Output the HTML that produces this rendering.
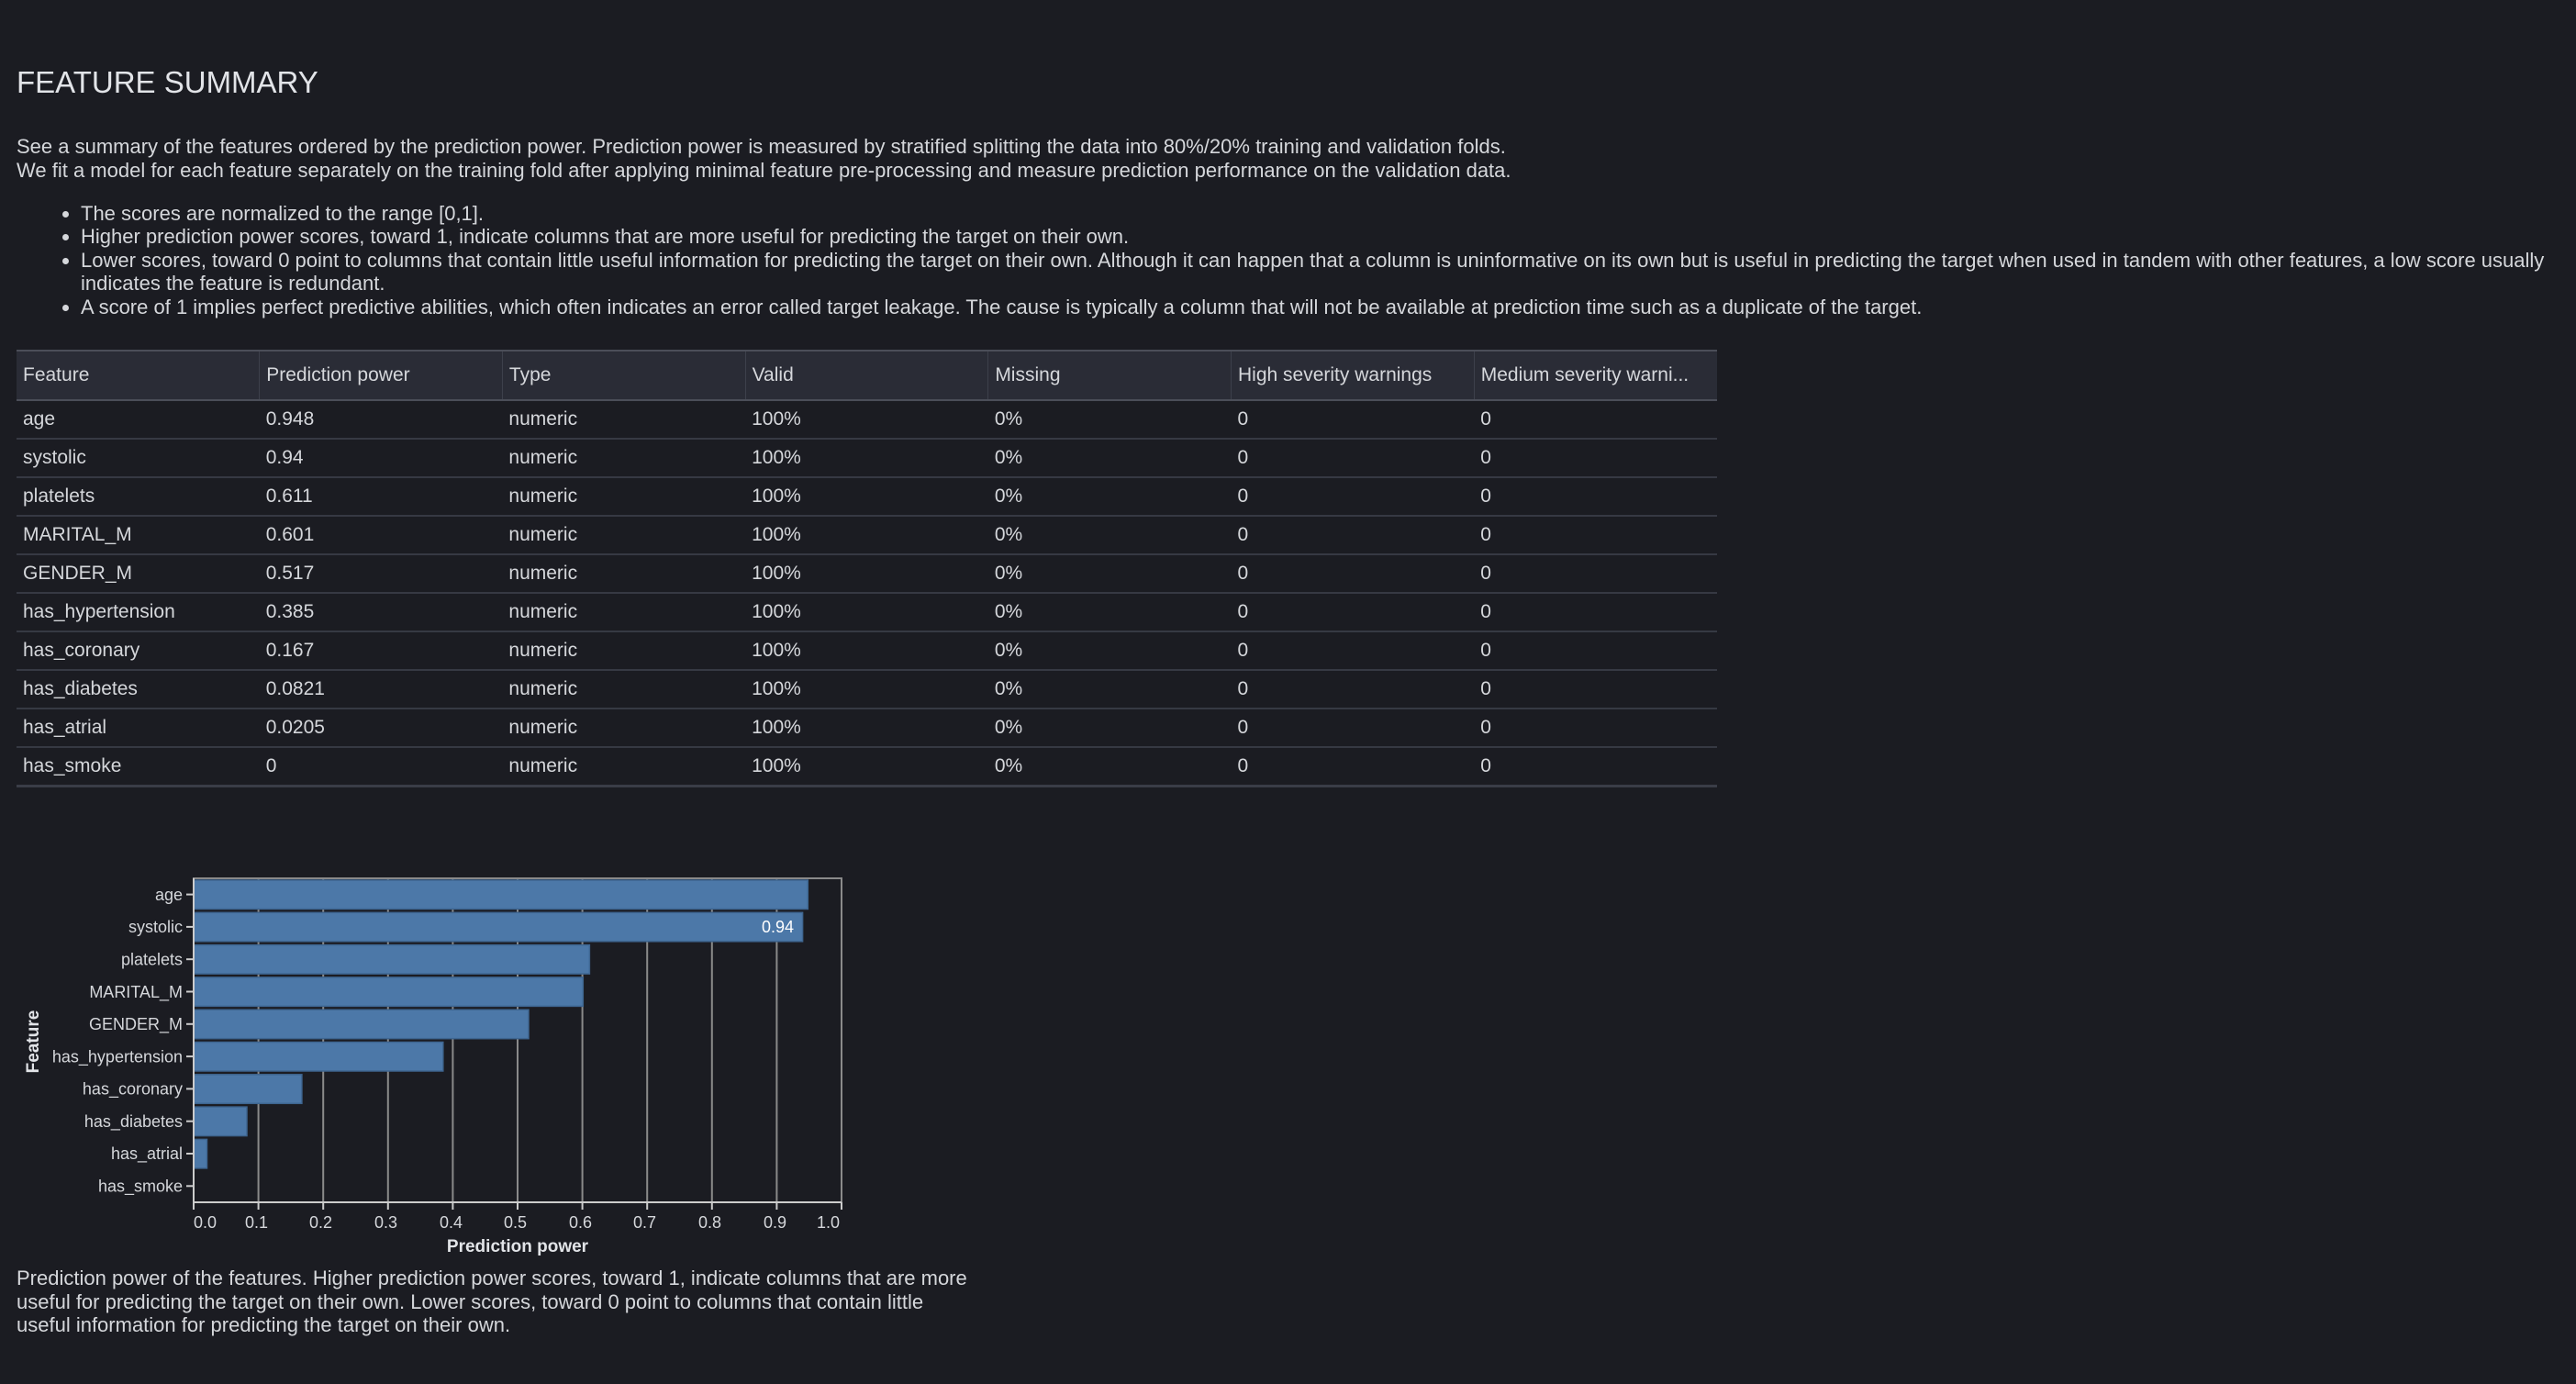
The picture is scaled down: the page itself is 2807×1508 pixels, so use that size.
<!DOCTYPE html>
<html><head><meta charset="utf-8"><style>
html,body{margin:0;padding:0;background:#1b1c22;width:2807px;height:1508px;overflow:hidden}
body{font-family:"Liberation Sans",sans-serif;color:#d5d7db}
h1{position:absolute;left:18px;top:71px;margin:0;font-weight:normal;font-size:33px;color:#e2e4e8}
.p{position:absolute;left:18px;font-size:22px;line-height:26px}
ul{position:absolute;left:50px;top:220px;margin:0;padding-left:38px;font-size:22px;line-height:25.4px;width:2700px}
table{position:absolute;left:18px;top:381px;border-collapse:collapse;font-size:21px;table-layout:fixed;width:1853px}
th{background:#2a2c36;font-weight:normal;text-align:left;height:52px;padding:0 7px;border-left:1px solid #3d404b;border-top:2px solid #4b4e58;border-bottom:2px solid #4b4e58;overflow:hidden;white-space:nowrap}
th:first-child{border-left:none}
td{height:40px;padding:0 7px;border-bottom:2px solid #363943}
tr:last-child td{border-bottom:3px solid #3a3d47}
</style></head><body>
<h1>FEATURE SUMMARY</h1>
<div class="p" style="top:147px">See a summary of the features ordered by the prediction power. Prediction power is measured by stratified splitting the data into 80%/20% training and validation folds.<br>We fit a model for each feature separately on the training fold after applying minimal feature pre-processing and measure prediction performance on the validation data.</div>
<ul>
<li>The scores are normalized to the range [0,1].</li>
<li>Higher prediction power scores, toward 1, indicate columns that are more useful for predicting the target on their own.</li>
<li>Lower scores, toward 0 point to columns that contain little useful information for predicting the target on their own. Although it can happen that a column is uninformative on its own but is useful in predicting the target when used in tandem with other features, a low score usually<br>indicates the feature is redundant.</li>
<li>A score of 1 implies perfect predictive abilities, which often indicates an error called target leakage. The cause is typically a column that will not be available at prediction time such as a duplicate of the target.</li>
</ul>
<table>
<tr><th>Feature</th><th>Prediction power</th><th>Type</th><th>Valid</th><th>Missing</th><th>High severity warnings</th><th>Medium severity warni...</th></tr>
<tr><td>age</td><td>0.948</td><td>numeric</td><td>100%</td><td>0%</td><td>0</td><td>0</td></tr>
<tr><td>systolic</td><td>0.94</td><td>numeric</td><td>100%</td><td>0%</td><td>0</td><td>0</td></tr>
<tr><td>platelets</td><td>0.611</td><td>numeric</td><td>100%</td><td>0%</td><td>0</td><td>0</td></tr>
<tr><td>MARITAL_M</td><td>0.601</td><td>numeric</td><td>100%</td><td>0%</td><td>0</td><td>0</td></tr>
<tr><td>GENDER_M</td><td>0.517</td><td>numeric</td><td>100%</td><td>0%</td><td>0</td><td>0</td></tr>
<tr><td>has_hypertension</td><td>0.385</td><td>numeric</td><td>100%</td><td>0%</td><td>0</td><td>0</td></tr>
<tr><td>has_coronary</td><td>0.167</td><td>numeric</td><td>100%</td><td>0%</td><td>0</td><td>0</td></tr>
<tr><td>has_diabetes</td><td>0.0821</td><td>numeric</td><td>100%</td><td>0%</td><td>0</td><td>0</td></tr>
<tr><td>has_atrial</td><td>0.0205</td><td>numeric</td><td>100%</td><td>0%</td><td>0</td><td>0</td></tr>
<tr><td>has_smoke</td><td>0</td><td>numeric</td><td>100%</td><td>0%</td><td>0</td><td>0</td></tr>
</table>
<svg style="position:absolute;left:0;top:0" width="2807" height="1508" font-family="Liberation Sans, sans-serif">
<g stroke="#8a8a8a" stroke-width="2">
<line x1="281.6" y1="957" x2="281.6" y2="1310"/><line x1="352.2" y1="957" x2="352.2" y2="1310"/><line x1="422.8" y1="957" x2="422.8" y2="1310"/><line x1="493.4" y1="957" x2="493.4" y2="1310"/><line x1="564" y1="957" x2="564" y2="1310"/><line x1="634.6" y1="957" x2="634.6" y2="1310"/><line x1="705.2" y1="957" x2="705.2" y2="1310"/><line x1="775.8" y1="957" x2="775.8" y2="1310"/><line x1="846.4" y1="957" x2="846.4" y2="1310"/>
</g>
<rect x="211" y="957" width="706" height="353" fill="none" stroke="#8a8a8a" stroke-width="2"/>
<g fill="#4c78a8" stroke="#3e6590" stroke-width="1.5">
<rect x="211" y="959" width="669.3" height="31.5"/>
<rect x="211" y="994.3" width="663.6" height="31.5"/>
<rect x="211" y="1029.6" width="431.4" height="31.5"/>
<rect x="211" y="1064.9" width="424.3" height="31.5"/>
<rect x="211" y="1100.2" width="365" height="31.5"/>
<rect x="211" y="1135.5" width="271.8" height="31.5"/>
<rect x="211" y="1170.8" width="117.9" height="31.5"/>
<rect x="211" y="1206.1" width="58" height="31.5"/>
<rect x="211" y="1241.4" width="14.5" height="31.5"/>
</g>
<text x="865" y="1016" fill="#fff" font-size="18" text-anchor="end">0.94</text>
<line x1="211" y1="1310" x2="917" y2="1310" stroke="#ccc" stroke-width="2"/>
<line x1="211" y1="957" x2="211" y2="1310" stroke="#ccc" stroke-width="2"/>
<g stroke="#ccc" stroke-width="2">
<line x1="203" y1="974.6" x2="211" y2="974.6"/><line x1="203" y1="1009.9" x2="211" y2="1009.9"/><line x1="203" y1="1045.2" x2="211" y2="1045.2"/><line x1="203" y1="1080.5" x2="211" y2="1080.5"/><line x1="203" y1="1115.8" x2="211" y2="1115.8"/><line x1="203" y1="1151.1" x2="211" y2="1151.1"/><line x1="203" y1="1186.4" x2="211" y2="1186.4"/><line x1="203" y1="1221.7" x2="211" y2="1221.7"/><line x1="203" y1="1257" x2="211" y2="1257"/><line x1="203" y1="1292.3" x2="211" y2="1292.3"/>
<line x1="211" y1="1310" x2="211" y2="1318"/><line x1="281.6" y1="1310" x2="281.6" y2="1318"/><line x1="352.2" y1="1310" x2="352.2" y2="1318"/><line x1="422.8" y1="1310" x2="422.8" y2="1318"/><line x1="493.4" y1="1310" x2="493.4" y2="1318"/><line x1="564" y1="1310" x2="564" y2="1318"/><line x1="634.6" y1="1310" x2="634.6" y2="1318"/><line x1="705.2" y1="1310" x2="705.2" y2="1318"/><line x1="775.8" y1="1310" x2="775.8" y2="1318"/><line x1="846.4" y1="1310" x2="846.4" y2="1318"/><line x1="917" y1="1310" x2="917" y2="1318"/>
</g>
<g fill="#d5d7db" font-size="18" text-anchor="end">
<text x="199" y="981">age</text><text x="199" y="1016">systolic</text><text x="199" y="1051.5">platelets</text><text x="199" y="1087">MARITAL_M</text><text x="199" y="1122">GENDER_M</text><text x="199" y="1157.5">has_hypertension</text><text x="199" y="1192.5">has_coronary</text><text x="199" y="1228">has_diabetes</text><text x="199" y="1263">has_atrial</text><text x="199" y="1298.5">has_smoke</text>
</g>
<g fill="#d5d7db" font-size="18">
<text x="211" y="1338">0.0</text><text x="267" y="1338">0.1</text><text x="337" y="1338">0.2</text><text x="408" y="1338">0.3</text><text x="479" y="1338">0.4</text><text x="549" y="1338">0.5</text><text x="620" y="1338">0.6</text><text x="690" y="1338">0.7</text><text x="761" y="1338">0.8</text><text x="832" y="1338">0.9</text><text x="890" y="1338">1.0</text>
</g>
<text x="564" y="1364" fill="#e2e4e8" font-size="19" font-weight="bold" text-anchor="middle">Prediction power</text>
<text transform="translate(42,1135) rotate(-90)" fill="#e2e4e8" font-size="19" font-weight="bold" text-anchor="middle">Feature</text>
</svg>
<div class="p" style="top:1380px;line-height:25.5px">Prediction power of the features. Higher prediction power scores, toward 1, indicate columns that are more<br>useful for predicting the target on their own. Lower scores, toward 0 point to columns that contain little<br>useful information for predicting the target on their own.</div>
</body></html>
